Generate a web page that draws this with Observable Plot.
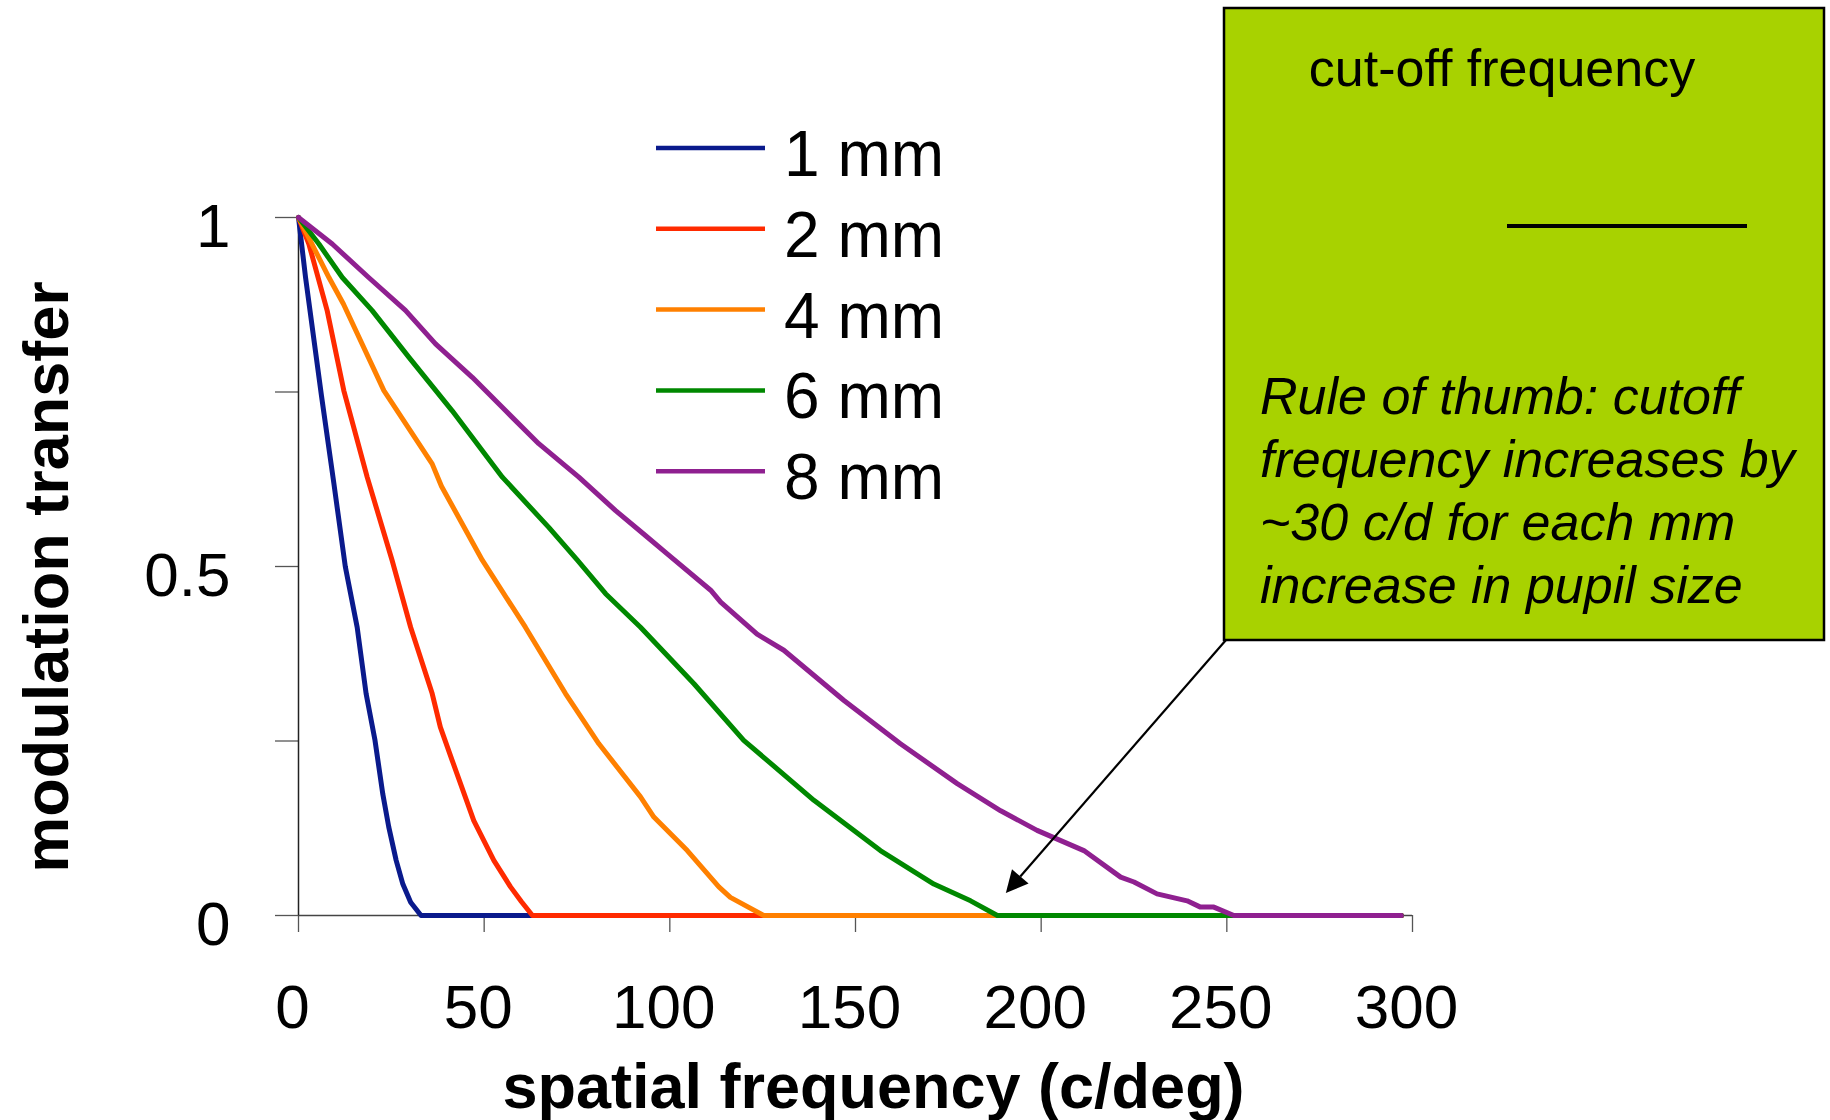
<!DOCTYPE html>
<html><head><meta charset="utf-8">
<script src="https://cdn.jsdelivr.net/npm/d3@7"></script>
<script src="https://cdn.jsdelivr.net/npm/@observablehq/plot@0.6"></script>
<style>
html,body{margin:0;padding:0;background:#fff;}
#chart{width:1830px;height:1120px;}
</style></head><body><div id="chart"></div>
<script>
// ---- data ----
const pupilSizes = ["1 mm", "2 mm", "4 mm", "6 mm", "8 mm"];
const seriesColors = ["#0a1a8c", "#ff2a00", "#ff8000", "#008800", "#8f2090"];

const freq1mm = [0, 1.9, 6.2, 9.5, 12.6, 15.8, 18.2, 20.6, 22.7, 24.3, 26.3, 28.1, 30.2, 33, 297];
const mtf1mm  = [1, 0.914, 0.744, 0.62, 0.50, 0.413, 0.318, 0.251, 0.174, 0.127, 0.079, 0.045, 0.019, 0, 0];

const freq2mm = [0, 2.8, 7.7, 12.2, 18.5, 25.2, 30.2, 36, 38.2, 41.4, 47.2, 52.6, 57.1, 60, 63, 297];
const mtf2mm  = [1, 0.962, 0.867, 0.752, 0.628, 0.509, 0.413, 0.318, 0.270, 0.222, 0.136, 0.079, 0.041, 0.02, 0, 0];

const freq4mm = [0, 8.2, 12.1, 23, 36, 38.5, 49.5, 61.1, 71.9, 80.9, 92.1, 95.7, 104.7, 113.2, 116.3, 125.3, 297];
const mtf4mm  = [1, 0.914, 0.876, 0.752, 0.647, 0.615, 0.509, 0.413, 0.318, 0.246, 0.170, 0.141, 0.093, 0.041, 0.026, 0, 0];

const freq6mm = [0, 5.5, 11.8, 19.8, 29.7, 41.4, 54.9, 67.4, 75.1, 82.7, 92.1, 106.5, 119.9, 138.8, 156.7, 171.1, 181, 188.2, 297];
const mtf6mm  = [1, 0.962, 0.914, 0.867, 0.800, 0.723, 0.628, 0.556, 0.509, 0.461, 0.413, 0.332, 0.251, 0.165, 0.093, 0.045, 0.021, 0, 0];

const freq8mm = [0, 9.1, 18.9, 28.8, 36.9, 46.8, 55.8, 64.7, 75.5, 85.4, 93.5, 99.3, 111, 113.7, 123.5, 130.7, 146.9, 162.1, 177.4, 189.1, 198.9, 211.5, 221.4, 225, 231.2, 239.3, 242.9, 246.5, 251.9, 297];
const mtf8mm  = [1, 0.962, 0.914, 0.867, 0.819, 0.771, 0.723, 0.676, 0.628, 0.580, 0.544, 0.518, 0.466, 0.449, 0.403, 0.380, 0.308, 0.246, 0.189, 0.150, 0.122, 0.093, 0.055, 0.048, 0.031, 0.021, 0.012, 0.012, 0, 0];

const xTicks = [0, 50, 100, 150, 200, 250, 300];
const yTicks = [0, 0.25, 0.5, 0.75, 1];
const yTickLabels = [0, 0.5, 1];
const xLabel = "spatial frequency (c/deg)";
const yLabel = "modulation transfer";
const boxTitle = "cut-off frequency";
const ruleOfThumb = ["Rule of thumb: cutoff", "frequency increases by", "~30 c/d for each mm", "increase in pupil size"];

// ---- build table ----
const allFreq = [freq1mm, freq2mm, freq4mm, freq6mm, freq8mm];
const allMtf = [mtf1mm, mtf2mm, mtf4mm, mtf6mm, mtf8mm];
const rows = [];
pupilSizes.forEach((s, i) => allFreq[i].forEach((f, j) => rows.push({series: s, f, m: allMtf[i][j]})));

const FONT = "'Liberation Sans', Arial, Helvetica, sans-serif";

const chart = Plot.plot({
  width: 1830, height: 1120,
  marginLeft: 298, marginRight: 418, marginTop: 217, marginBottom: 205,
  style: {fontFamily: FONT, background: "#fff", color: "#000"},
  x: {domain: [0, 300]},
  y: {domain: [0, 1]},
  color: {domain: pupilSizes, range: seriesColors},
  marks: [
    Plot.axisX(xTicks, {tickSize: 17, tickFormat: () => "", stroke: "#555", strokeWidth: 1.3, label: null}),
    Plot.axisY(yTicks, {tickSize: 23, tickFormat: () => "", stroke: "#555", strokeWidth: 1.3, label: null}),
    Plot.text(xTicks, {x: d => d, frameAnchor: "bottom", lineAnchor: "top", dx: -6, dy: 68, fontSize: 62, fill: "#000", text: d => String(d)}),
    Plot.text(yTickLabels, {y: d => d, frameAnchor: "left", textAnchor: "end", dx: -68, dy: 10, fontSize: 62, fill: "#000", text: d => String(d)}),
    Plot.ruleY([0], {stroke: "#444", strokeWidth: 1.5}),
    Plot.ruleX([0], {stroke: "#222", strokeWidth: 1.5}),
    Plot.line(rows, {x: "f", y: "m", z: "series", stroke: "series", strokeWidth: 5, strokeLinejoin: "round"}),
    Plot.text([xLabel], {frameAnchor: "bottom", dx: 18, dy: 192, fontSize: 63, fontWeight: "bold", fill: "#000"})
  ]
});

const svg = d3.select(chart);
svg.style("overflow", "visible");
const xs = chart.scale("x"), ys = chart.scale("y");

// y-axis title
svg.append("text").attr("transform", "translate(68,577) rotate(-90)")
  .attr("text-anchor", "middle").attr("font-size", 63).attr("font-weight", "bold")
  .attr("font-family", FONT).attr("fill", "#000").text(yLabel);

// legend
const leg = svg.append("g");
pupilSizes.forEach((s, i) => {
  const yy = 148 + 80.8 * i;
  leg.append("line").attr("x1", 656).attr("x2", 765).attr("y1", yy).attr("y2", yy)
    .attr("stroke", seriesColors[i]).attr("stroke-width", 4.5);
  leg.append("text").attr("x", 784).attr("y", yy + 28).attr("font-size", 64)
    .attr("text-anchor", "start").attr("font-family", FONT).attr("fill", "#000").text(s);
});

// annotation box
const ann = svg.append("g");
ann.append("rect").attr("x", 1224).attr("y", 8).attr("width", 600).attr("height", 632)
  .attr("fill", "#a8d200").attr("stroke", "#000").attr("stroke-width", 2.5);
ann.append("text").attr("x", 1502).attr("y", 86).attr("text-anchor", "middle")
  .attr("font-size", 52).attr("font-family", FONT).attr("fill", "#000").text(boxTitle);
ann.append("line").attr("x1", 1507).attr("x2", 1747).attr("y1", 226).attr("y2", 226)
  .attr("stroke", "#000").attr("stroke-width", 4);
ruleOfThumb.forEach((t, i) => {
  ann.append("text").attr("x", 1260).attr("y", 414 + 63 * i).attr("font-size", 52)
    .attr("text-anchor", "start").attr("font-style", "italic")
    .attr("font-family", FONT).attr("fill", "#000").text(t);
});

// arrow to the 6 mm cut-off
const cut6 = freq6mm[mtf6mm.indexOf(0)];
const tipX = xs.apply(cut6) + 9, tipY = ys.apply(0) - 22;
const x0 = 1226, y0 = 640;
const ang = Math.atan2(tipY - y0, tipX - x0);
const hl = 22, hw = 11;
const bx = tipX - hl * Math.cos(ang), by = tipY - hl * Math.sin(ang);
ann.append("line").attr("x1", x0).attr("y1", y0).attr("x2", bx).attr("y2", by)
  .attr("stroke", "#000").attr("stroke-width", 2.2);
ann.append("path").attr("d", `M${tipX},${tipY}L${bx + hw * Math.sin(ang)},${by - hw * Math.cos(ang)}L${bx - hw * Math.sin(ang)},${by + hw * Math.cos(ang)}Z`)
  .attr("fill", "#000");

document.getElementById("chart").appendChild(chart);
</script></body></html>
